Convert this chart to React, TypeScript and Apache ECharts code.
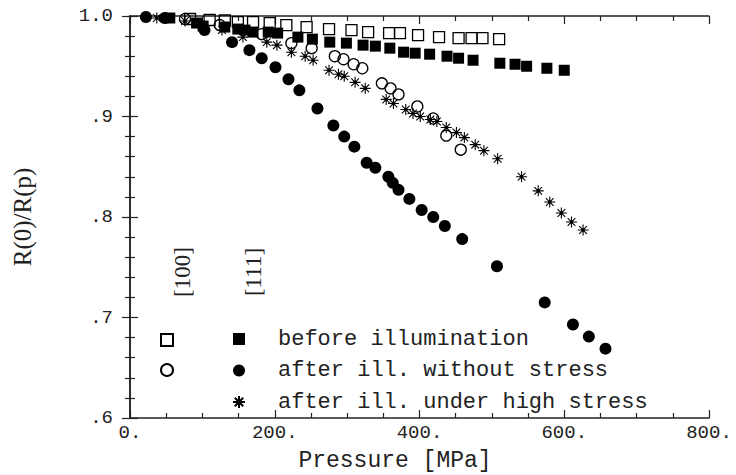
import React, { useEffect, useRef } from 'react';
import * as echarts from 'echarts';

// [100] before illumination (hollow squares)
const before100X = [83, 110, 131, 149, 170, 193, 216, 244, 275, 306, 329, 358, 373, 398, 427, 454, 472, 487, 510];
const before100Y = [0.997, 0.996, 0.9955, 0.994, 0.994, 0.993, 0.991, 0.989, 0.987, 0.986, 0.984, 0.983, 0.983, 0.981, 0.979, 0.978, 0.978, 0.978, 0.977];

// [111] before illumination (filled squares)
const before111X = [55, 92, 101, 131, 149, 159, 170, 191, 204, 232, 252, 276, 299, 322, 339, 359, 378, 394, 414, 438, 454, 474, 511, 532, 548, 576, 600];
const before111Y = [0.998, 0.993, 0.99, 0.989, 0.987, 0.986, 0.984, 0.984, 0.983, 0.979, 0.977, 0.974, 0.973, 0.971, 0.97, 0.968, 0.964, 0.963, 0.962, 0.96, 0.958, 0.956, 0.953, 0.952, 0.95, 0.948, 0.946];

// [100] after ill. without stress (hollow circles)
const after100X = [76, 124, 182, 223, 251, 283, 295, 309, 321, 348, 360, 371, 397, 419, 437, 457];
const after100Y = [0.997, 0.991, 0.982, 0.973, 0.968, 0.96, 0.957, 0.952, 0.948, 0.933, 0.928, 0.922, 0.91, 0.898, 0.881, 0.867];

// [111] after ill. without stress (filled circles)
const after111X = [22, 48, 103, 141, 165, 182, 201, 219, 234, 259, 281, 296, 310, 327, 339, 357, 363, 371, 386, 403, 419, 435, 459, 507, 573, 612, 634, 657];
const after111Y = [0.999, 0.998, 0.986, 0.974, 0.966, 0.958, 0.949, 0.937, 0.926, 0.908, 0.891, 0.88, 0.87, 0.854, 0.849, 0.84, 0.834, 0.827, 0.818, 0.807, 0.8, 0.791, 0.778, 0.751, 0.715, 0.693, 0.681, 0.669];

// [111] after ill. under high stress (stars)
const stress111X = [37, 76, 127, 156, 189, 203, 223, 242, 253, 275, 288, 296, 311, 325, 354, 364, 381, 391, 401, 415, 424, 437, 451, 462, 477, 489, 508, 541, 564, 580, 596, 610, 626];
const stress111Y = [0.998, 0.995, 0.986, 0.979, 0.974, 0.971, 0.964, 0.96, 0.956, 0.946, 0.942, 0.94, 0.934, 0.928, 0.917, 0.913, 0.907, 0.903, 0.9, 0.897, 0.895, 0.889, 0.884, 0.879, 0.872, 0.866, 0.858, 0.84, 0.826, 0.815, 0.804, 0.795, 0.787];

const seriesNames = ['before illumination', 'after ill. without stress', 'after ill. under high stress'];
const hollowNames = ['before illumination [100]', 'after ill. without stress [100]'];
const orientationLabels = ['[100]', '[111]'];
const xAxisName = 'Pressure [MPa]';
const yAxisName = 'R(0)/R(p)';

const STAR = 'path://M0,5L10,5M5,0L5,10M1.5,1.5L8.5,8.5M1.5,8.5L8.5,1.5M3.9,3.9L6.1,3.9L6.1,6.1L3.9,6.1Z';
const MONO = 'Liberation Mono';
const SERIF = 'Liberation Serif';
const INK = '#000';

const pairs = (xs: number[], ys: number[]) => xs.map((x, i) => [x, ys[i]]);

export default function App() {
  const ref = useRef<HTMLDivElement>(null);
  useEffect(() => {
    if (!ref.current) return;
    const chart = echarts.init(ref.current, undefined, { renderer: 'svg' });
    const tickStyle = { color: '#222', width: 1.2 };
    const baseX = {
      type: 'value' as const,
      min: 0,
      max: 800,
      interval: 200,
      splitLine: { show: false },
      axisLine: { show: true, lineStyle: { color: '#222', width: 1.5 } },
      axisTick: { show: true, inside: true, length: 8, lineStyle: tickStyle },
      minorTick: { show: true, splitNumber: 4, length: 5, lineStyle: tickStyle },
    };
    const baseY = {
      type: 'value' as const,
      min: 0.6,
      max: 1.0,
      interval: 0.1,
      splitLine: { show: false },
      axisLine: { show: true, lineStyle: { color: '#222', width: 1.5 } },
      axisTick: { show: true, inside: true, length: 8, lineStyle: tickStyle },
      minorTick: { show: true, splitNumber: 5, length: 5, lineStyle: tickStyle },
    };
    const hollow = { color: 'rgba(0,0,0,0)', borderColor: INK, borderWidth: 1.3, opacity: 1 };
    const filled = { color: INK, opacity: 1 };
    chart.setOption({
      animation: false,
      backgroundColor: '#fff',
      grid: { left: 130, right: 27, top: 16, bottom: 57, containLabel: false, outerBoundsMode: 'none' },
      xAxis: [
        {
          ...baseX,
          position: 'bottom',
          axisLabel: { formatter: (v: number) => v + '.', fontFamily: MONO, fontSize: 19, color: '#222', margin: 5 },
          name: xAxisName,
          nameLocation: 'middle',
          nameGap: 31,
          nameTextStyle: { fontFamily: MONO, fontSize: 23, lineHeight: 24, color: '#222', padding: [0, 49, 0, 0] },
        },
        { ...baseX, position: 'top', axisLabel: { show: false } },
      ],
      yAxis: [
        {
          ...baseY,
          position: 'left',
          axisLabel: {
            formatter: (v: number) => (v >= 0.999 ? '1.0' : '.' + Math.round(v * 10)),
            fontFamily: MONO,
            fontSize: 19,
            color: '#222',
            margin: 17,
          },
          name: yAxisName,
          nameLocation: 'middle',
          nameGap: 95,
          nameTextStyle: { fontFamily: SERIF, fontSize: 25, color: '#222' },
        },
        { ...baseY, position: 'right', axisLabel: { show: false } },
      ],
      legend: [
        {
          data: hollowNames,
          orient: 'vertical',
          left: 160,
          top: 333,
          padding: 0,
          itemWidth: 12,
          itemHeight: 12,
          itemGap: 16,
          selectedMode: false,
          formatter: () => '',
          textStyle: { fontFamily: MONO, fontSize: 22, lineHeight: 18 },
        },
        {
          data: seriesNames,
          orient: 'vertical',
          left: 232,
          top: 328,
          padding: 0,
          itemWidth: 12,
          itemHeight: 12,
          itemGap: 9.5,
          selectedMode: false,
          textStyle: { fontFamily: MONO, fontSize: 22, lineHeight: 18, color: '#222', padding: [0, 0, 0, 28] },
        },
      ],
      graphic: [
        {
          type: 'text',
          x: 182,
          y: 272,
          rotation: Math.PI / 2,
          style: { text: orientationLabels[0], font: `23px "${SERIF}"`, fill: '#222', align: 'center', verticalAlign: 'middle' },
        },
        {
          type: 'text',
          x: 253,
          y: 272,
          rotation: Math.PI / 2,
          style: { text: orientationLabels[1], font: `23px "${SERIF}"`, fill: '#222', align: 'center', verticalAlign: 'middle' },
        },
      ],
      series: [
        { name: hollowNames[0], type: 'scatter', clip: false, symbol: 'rect', symbolSize: 11, itemStyle: hollow, data: pairs(before100X, before100Y) },
        { name: seriesNames[0], type: 'scatter', clip: false, symbol: 'rect', symbolSize: 11, itemStyle: filled, data: pairs(before111X, before111Y) },
        { name: hollowNames[1], type: 'scatter', clip: false, symbol: 'circle', symbolSize: 11, itemStyle: hollow, data: pairs(after100X, after100Y) },
        { name: seriesNames[1], type: 'scatter', clip: false, symbol: 'circle', symbolSize: 12, itemStyle: filled, data: pairs(after111X, after111Y) },
        { name: seriesNames[2], type: 'scatter', clip: false, symbol: STAR, symbolSize: 11, itemStyle: { color: '#fff', borderColor: INK, borderWidth: 1.1, opacity: 1 }, data: pairs(stress111X, stress111Y) },
      ],
    });
    return () => chart.dispose();
  }, []);
  return <div ref={ref} style={{ position: 'fixed', left: 0, top: 0, width: 736, height: 475, background: '#fff' }} />;
}
